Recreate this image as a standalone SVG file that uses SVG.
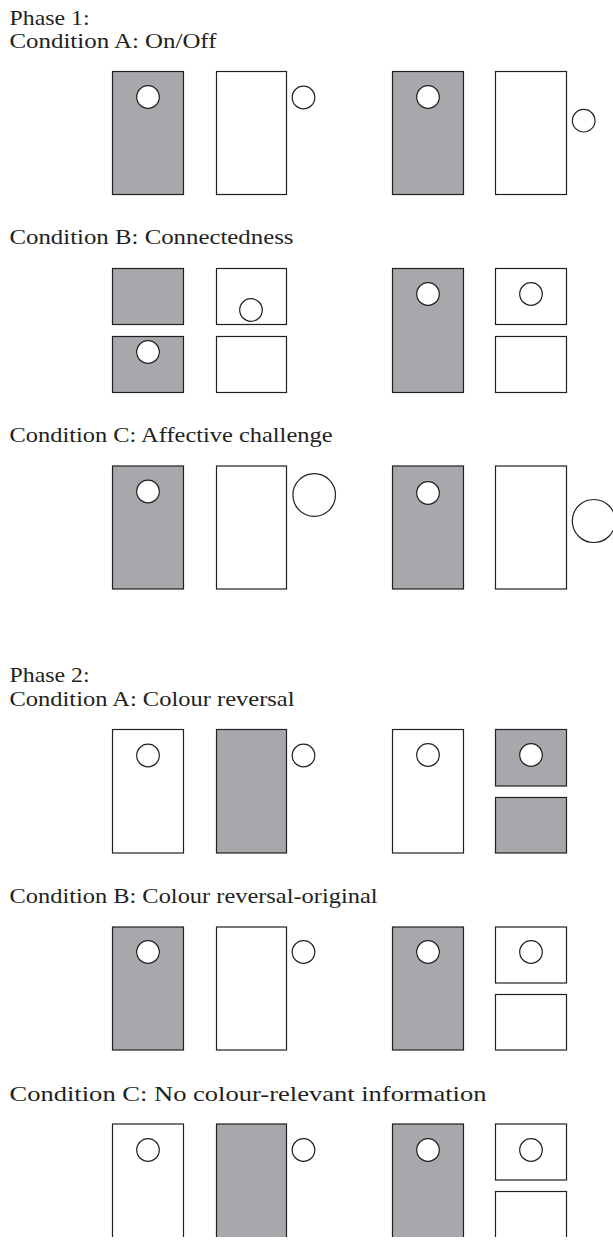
<svg xmlns="http://www.w3.org/2000/svg" width="613" height="1246" viewBox="0 0 613 1246">
  <style>
    .t { font-family: "Liberation Serif", "Times New Roman", serif; font-size: 21.5px; fill: #231f20; }
    .g { fill: #a7a8ab; stroke: #231f20; stroke-width: 1.2; }
    .w { fill: #ffffff; stroke: #231f20; stroke-width: 1.2; }
    .c { fill: #ffffff; stroke: #231f20; stroke-width: 1.2; }
  </style>
  <defs>
    <clipPath id="cut"><rect x="0" y="0" width="613" height="1237"/></clipPath>
  </defs>
  <rect x="0" y="0" width="613" height="1246" fill="#ffffff"/>

  <g id="labels">
    <text class="t" x="9.5" y="24.5" textLength="80" lengthAdjust="spacingAndGlyphs">Phase 1:</text>
    <text class="t" x="9.5" y="47.7" textLength="207" lengthAdjust="spacingAndGlyphs">Condition A: On/Off</text>
    <text class="t" x="9.5" y="244" textLength="284" lengthAdjust="spacingAndGlyphs">Condition B: Connectedness</text>
    <text class="t" x="9.5" y="442.3" textLength="323" lengthAdjust="spacingAndGlyphs">Condition C: Affective challenge</text>
    <text class="t" x="9.5" y="682.3" textLength="80" lengthAdjust="spacingAndGlyphs">Phase 2:</text>
    <text class="t" x="9.5" y="705.7" textLength="285" lengthAdjust="spacingAndGlyphs">Condition A: Colour reversal</text>
    <text class="t" x="9.5" y="902.7" textLength="368" lengthAdjust="spacingAndGlyphs">Condition B: Colour reversal-original</text>
    <text class="t" x="9.5" y="1100.5" textLength="477" lengthAdjust="spacingAndGlyphs">Condition C: No colour-relevant information</text>
  </g>

  <!-- Phase 1, Condition A -->
  <g id="p1a-left">
    <rect class="g" x="112.5" y="71.5" width="71" height="123"/>
    <circle class="c" cx="148" cy="97" r="11.3"/>
    <rect class="w" x="216.5" y="71.5" width="70" height="123"/>
    <circle class="c" cx="303.5" cy="97.5" r="11.3"/>
  </g>
  <g id="p1a-right">
    <rect class="g" x="392.5" y="71.5" width="71" height="123"/>
    <circle class="c" cx="428" cy="97" r="11.3"/>
    <rect class="w" x="495.5" y="71.5" width="71" height="123"/>
    <circle class="c" cx="583.7" cy="120.7" r="11.3"/>
  </g>

  <!-- Phase 1, Condition B -->
  <g id="p1b-left">
    <rect class="g" x="112.5" y="268.5" width="71" height="56"/>
    <rect class="w" x="216.5" y="268.5" width="70" height="56"/>
    <circle class="c" cx="251" cy="310" r="11.3"/>
    <rect class="g" x="112.5" y="336.5" width="71" height="56"/>
    <circle class="c" cx="148" cy="352" r="11.3"/>
    <rect class="w" x="216.5" y="336.5" width="70" height="56"/>
  </g>
  <g id="p1b-right">
    <rect class="g" x="392.5" y="268.5" width="71" height="124"/>
    <circle class="c" cx="428" cy="294" r="11.3"/>
    <rect class="w" x="495.5" y="268.5" width="71" height="56"/>
    <circle class="c" cx="531" cy="294" r="11.3"/>
    <rect class="w" x="495.5" y="336.5" width="71" height="56"/>
  </g>

  <!-- Phase 1, Condition C -->
  <g id="p1c-left">
    <rect class="g" x="112.5" y="466" width="71" height="123"/>
    <circle class="c" cx="148" cy="491.5" r="11.3"/>
    <rect class="w" x="216.5" y="466" width="70" height="123"/>
    <circle class="c" cx="314.2" cy="495" r="21.3"/>
  </g>
  <g id="p1c-right">
    <rect class="g" x="392.5" y="466" width="71" height="123"/>
    <circle class="c" cx="428" cy="493" r="11.3"/>
    <rect class="w" x="495.5" y="466" width="71" height="123"/>
    <circle class="c" cx="593.8" cy="521" r="21.5"/>
  </g>

  <!-- Phase 2, Condition A -->
  <g id="p2a-left">
    <rect class="w" x="112.5" y="729.5" width="71" height="123.5"/>
    <circle class="c" cx="148" cy="755.5" r="11.3"/>
    <rect class="g" x="216.5" y="729.5" width="70" height="123.5"/>
    <circle class="c" cx="303.5" cy="755.5" r="11.3"/>
  </g>
  <g id="p2a-right">
    <rect class="w" x="392.5" y="729.5" width="71" height="123.5"/>
    <circle class="c" cx="428" cy="755" r="11.3"/>
    <rect class="g" x="495.5" y="729.5" width="71" height="56.5"/>
    <circle class="c" cx="531" cy="755" r="11.3"/>
    <rect class="g" x="495.5" y="797.5" width="71" height="55.5"/>
  </g>

  <!-- Phase 2, Condition B -->
  <g id="p2b-left">
    <rect class="g" x="112.5" y="927" width="71" height="123"/>
    <circle class="c" cx="148" cy="952" r="11.3"/>
    <rect class="w" x="216.5" y="927" width="70" height="123"/>
    <circle class="c" cx="303.5" cy="952" r="11.3"/>
  </g>
  <g id="p2b-right">
    <rect class="g" x="392.5" y="927" width="71" height="123"/>
    <circle class="c" cx="428" cy="952" r="11.3"/>
    <rect class="w" x="495.5" y="927" width="71" height="56"/>
    <circle class="c" cx="531" cy="952" r="11.3"/>
    <rect class="w" x="495.5" y="994.5" width="71" height="55.5"/>
  </g>

  <!-- Phase 2, Condition C (cut off at the bottom) -->
  <g id="p2c-left" clip-path="url(#cut)">
    <rect class="w" x="112.5" y="1124" width="71" height="130"/>
    <circle class="c" cx="148" cy="1150" r="11.3"/>
    <rect class="g" x="216.5" y="1124" width="70" height="130"/>
    <circle class="c" cx="303.5" cy="1150" r="11.3"/>
  </g>
  <g id="p2c-right" clip-path="url(#cut)">
    <rect class="g" x="392.5" y="1124" width="71" height="130"/>
    <circle class="c" cx="428" cy="1150" r="11.3"/>
    <rect class="w" x="495.5" y="1124" width="71" height="56"/>
    <circle class="c" cx="531" cy="1150" r="11.3"/>
    <rect class="w" x="495.5" y="1191.5" width="71" height="60"/>
  </g>
</svg>
